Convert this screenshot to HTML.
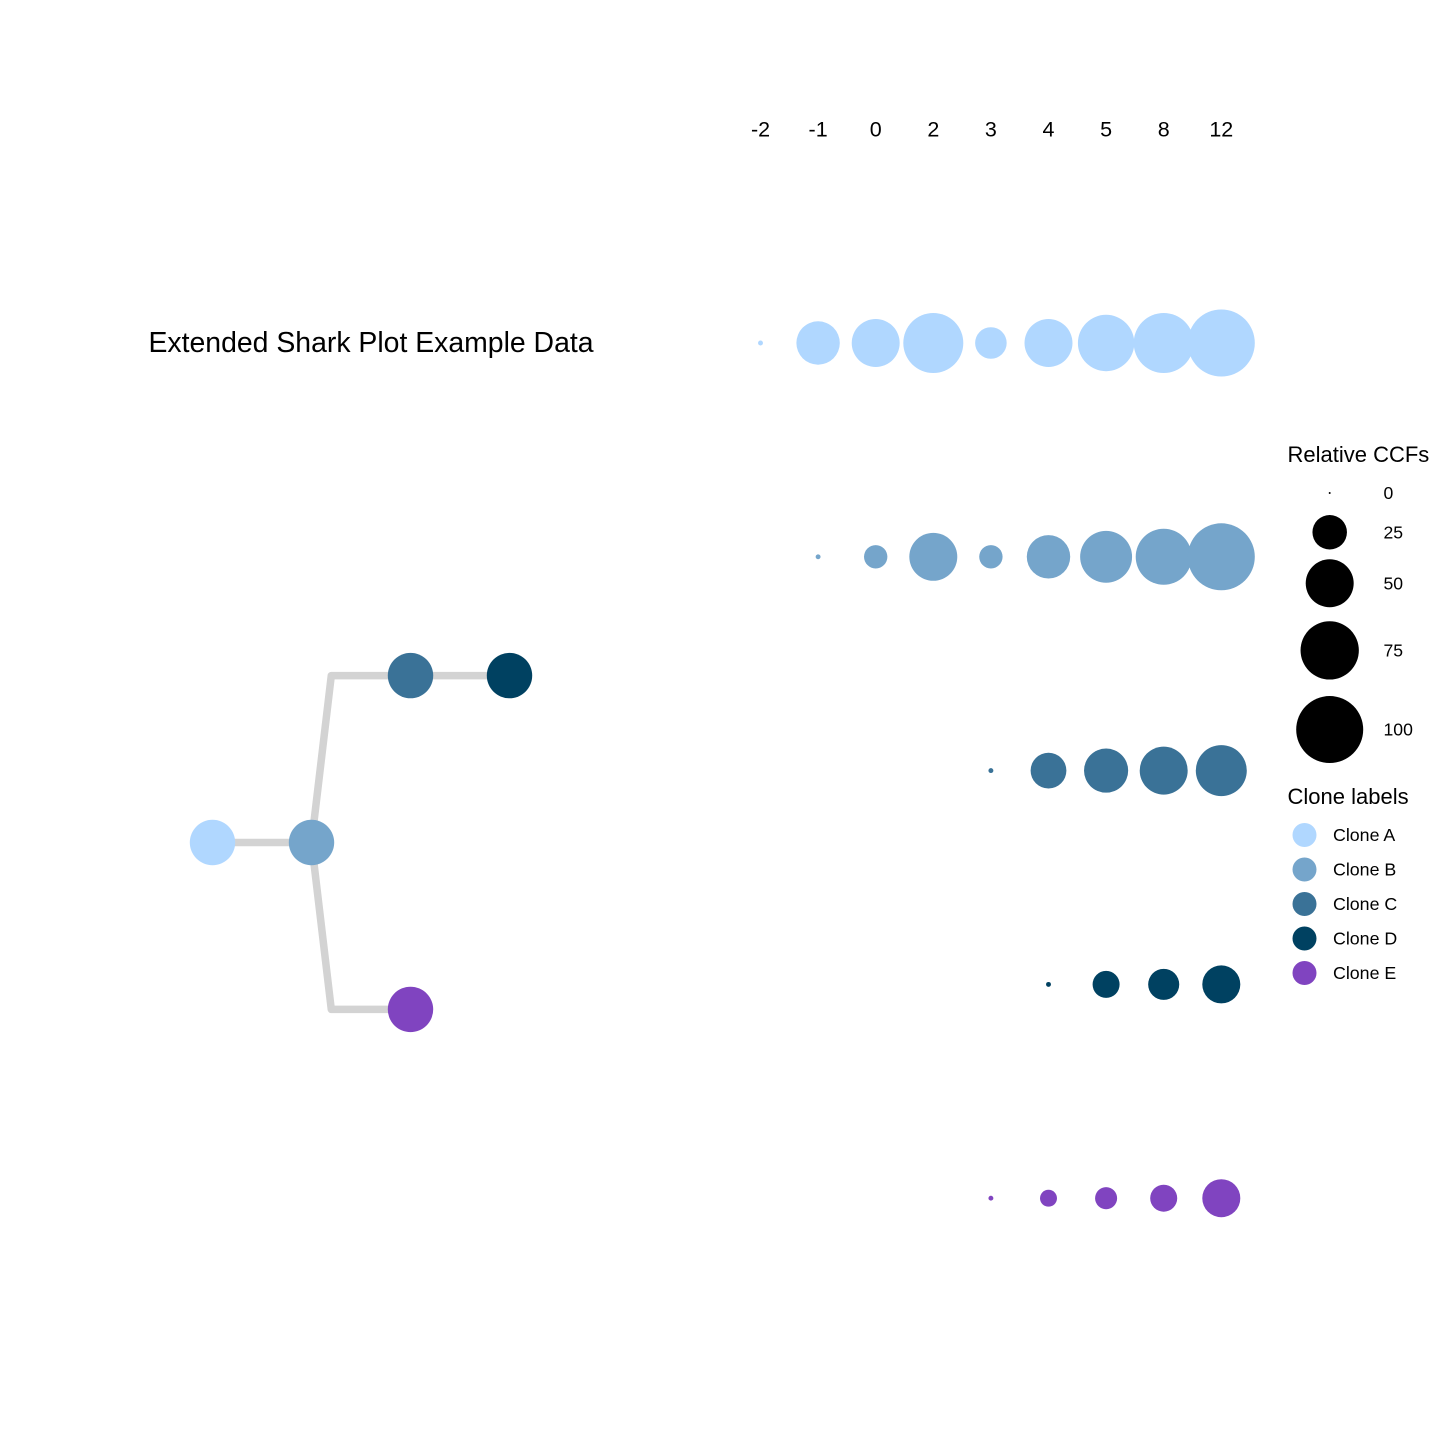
<!DOCTYPE html>
<html lang="en">
<head>
<meta charset="utf-8">
<title>Extended Shark Plot Example Data</title>
<style>
html,body{margin:0;padding:0;background:#fff;}
svg{display:block;font-family:"Liberation Sans",Arial,sans-serif;}
</style>
</head>
<body>
<svg id="chart" xmlns="http://www.w3.org/2000/svg" width="1440" height="1440" viewBox="0 0 1440 1440">
  <rect width="1440" height="1440" fill="#ffffff"/>
  <text x="148.5" y="352" font-size="28.4" fill="#000">Extended Shark Plot Example Data</text>
  <g id="tree"></g>
  <g id="x-ticks"></g>
  <g id="bubbles"></g>
  <g id="size-legend">
    <text x="1287.5" y="462" font-size="22" fill="#000">Relative CCFs</text>
  </g>
  <g id="clone-legend">
    <text x="1287.5" y="804" font-size="22" fill="#000">Clone labels</text>
  </g>
</svg>
<script>
const timepoints = ['-2', '-1', '0', '2', '3', '4', '5', '8', '12'];
const clones = ['Clone A', 'Clone B', 'Clone C', 'Clone D', 'Clone E'];
const cloneColors = ['#b0d7ff', '#75a5cb', '#3a7297', '#004161', '#8044c0'];
const cloneAValues = [0.2, 40.6, 50, 79.6, 20.7, 50, 70, 79.6, 100];
const cloneBValues = [null, 0.2, 10.8, 50, 10.8, 40.6, 59, 69, 100];
const cloneCValues = [null, null, null, null, 0.2, 27, 42, 50, 56.8];
const cloneDValues = [null, null, null, null, null, 0.2, 14.8, 20, 30.7];
const cloneEValues = [null, null, null, null, 0.2, 5.3, 9.5, 14.8, 30.7];
const sizeLegendValues = [0, 25, 50, 75, 100];
const treeDepth = [0, 1, 2, 3, 2];
const treeLane = [0, 0, 1, 1, -1];
const treeParent = [null, 0, 1, 2, 1];

const NS = 'http://www.w3.org/2000/svg';
const seriesValues = [cloneAValues, cloneBValues, cloneCValues, cloneDValues, cloneEValues];

function xScale(i) { return 760.5 + 57.6 * i; }
function yScale(row) { return 343 + 213.8 * row; }
function sizeScale(v) { return 1 + 32.5 * Math.sqrt(v / 100); }
function treeX(depth) { return 212.5 + 99 * depth; }
function treeY(lane) { return 842.5 - 166.9 * lane; }

function make(tag, attrs, parent, text) {
  const el = document.createElementNS(NS, tag);
  for (const k in attrs) el.setAttribute(k, attrs[k]);
  if (text !== undefined) el.textContent = text;
  parent.appendChild(el);
  return el;
}

const tickGroup = document.getElementById('x-ticks');
timepoints.forEach(function (t, i) {
  const el = make('text', { x: xScale(i), y: 136.5, 'font-size': 21.5, 'text-anchor': 'middle', fill: '#000' }, tickGroup, t);
  
  
});

const bubbleGroup = document.getElementById('bubbles');
seriesValues.forEach(function (values, row) {
  values.forEach(function (v, i) {
    if (v === null) return;
    const el = make('circle', { cx: xScale(i), cy: yScale(row), r: sizeScale(v), fill: cloneColors[row] }, bubbleGroup);
    
    
  });
});

const treeGroup = document.getElementById('tree');
treeParent.forEach(function (p, i) {
  if (p === null) return;
  const x0 = treeX(treeDepth[p]), y0 = treeY(treeLane[p]);
  const x1 = treeX(treeDepth[i]), y1 = treeY(treeLane[i]);
  const pts = y0 === y1
    ? [[x0, y0], [x1, y1]]
    : [[x0, y0], [x0 + (x1 - x0) * 0.2, y1], [x1, y1]];
  const el = make('polyline', {
    points: pts.map(function (q) { return q.join(','); }).join(' '),
    fill: 'none', stroke: '#d3d3d3', 'stroke-width': 7.5, 'stroke-linejoin': 'round'
  }, treeGroup);
  
  
});
treeDepth.forEach(function (d, i) {
  const el = make('circle', { cx: treeX(d), cy: treeY(treeLane[i]), r: 22.7, fill: cloneColors[i] }, treeGroup);
  
  
});

const sizeLegend = document.getElementById('size-legend');
let legendEdge = 492;
const sizeGap = [0, 21, 9.8, 14, 16.5];
sizeLegendValues.forEach(function (v, i) {
  const r = sizeScale(v);
  const cy = legendEdge + sizeGap[i] + r;
  const c = make('circle', { cx: 1329.7, cy: cy, r: r, fill: '#000' }, sizeLegend);
  
  
  const t = make('text', { x: 1383.5, y: cy + 6, 'font-size': 17.6, fill: '#000' }, sizeLegend, String(v));
  
  
  legendEdge = cy + r;
});

const cloneLegend = document.getElementById('clone-legend');
clones.forEach(function (name, i) {
  const cy = 835 + 34.5 * i;
  const c = make('circle', { cx: 1304.5, cy: cy, r: 12, fill: cloneColors[i] }, cloneLegend);
  
  
  const t = make('text', { x: 1333, y: cy + 6, 'font-size': 17.8, fill: '#000' }, cloneLegend, name);
  
  
});
</script>
</body>
</html>
